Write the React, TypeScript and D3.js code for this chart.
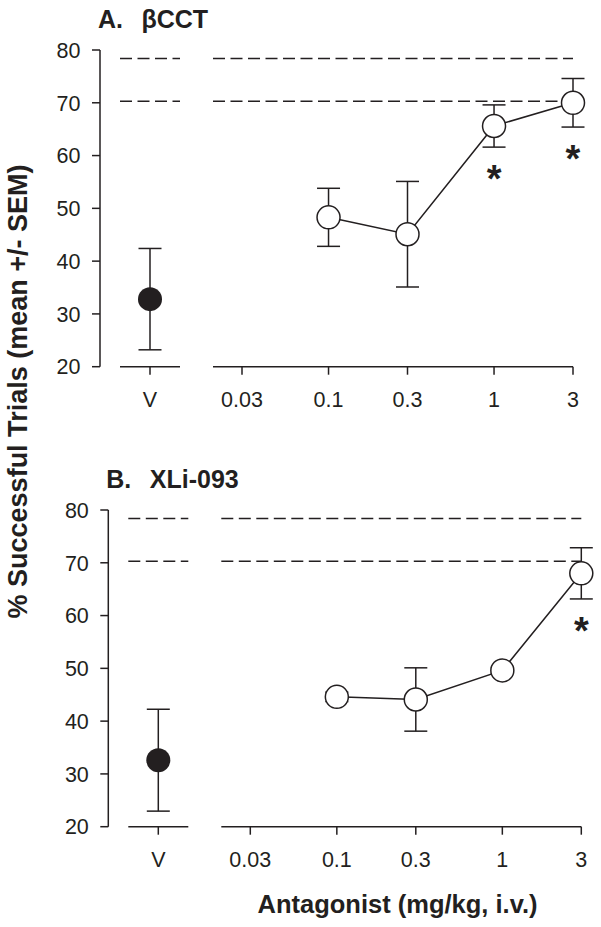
import React from "react";
import * as d3 from "d3";

// ---- data ----
const doses = [0.1, 0.3, 1, 3];
const doseTicks = [0.03, 0.1, 0.3, 1, 3];
const doseTickLabels = ["0.03", "0.1", "0.3", "1", "3"];
const yTicks = [20, 30, 40, 50, 60, 70, 80];
const refLines = [78.4, 70.3];

const aVehicleMean = 32.8;
const aVehicleSem = 9.6;
const aMeans = [48.3, 45.1, 65.6, 70.0];
const aSems = [5.5, 10.0, 4.0, 4.6];
const aSig = [false, false, true, true];

const bVehicleMean = 32.6;
const bVehicleSem = 9.65;
const bMeans = [44.6, 44.1, 49.6, 68.0];
const bSems = [0.9, 6.0, 0.5, 4.85];
const bSig = [false, false, false, true];

const FONT = "'Liberation Sans', Arial, Helvetica, sans-serif";

type PanelProps = {
  dx: number;
  dy: number;
  letter: string;
  name: string;
  vMean: number;
  vSem: number;
  means: number[];
  sems: number[];
  sig: boolean[];
};

function Panel({ dx, dy, letter, name, vMean, vSem, means, sems, sig }: PanelProps) {
  const axisX = 100;
  const y = d3.scaleLinear().domain([20, 80]).range([366.7, 50]);
  const x = d3.scaleLog().domain([0.03, 3]).range([242, 573]);
  const vX = 150;
  const y0 = y(20);
  const seg1: [number, number] = [vX - 30, vX + 30];
  const seg2: [number, number] = [x(0.03) - 29, x(3)];
  const r = 11.5;
  const cap = 11.5;
  const line = d3
    .line<number>()
    .x((_, i) => x(doses[i]))
    .y((d) => y(d));
  const sw = 1.5;
  const ink = "#231f20";
  return (
    <g transform={`translate(${dx},${dy})`} fontFamily={FONT}>
      {/* title */}
      <text x={98} y={27.5} fontSize={25} fontWeight="bold" fill={ink}>
        {letter}
      </text>
      <text x={141.5} y={27.5} fontSize={25} fontWeight="bold" fill={ink}>
        {name}
      </text>
      {/* y axis */}
      <line x1={axisX} x2={axisX} y1={y(80)} y2={y(20)} stroke={ink} strokeWidth={sw} />
      {yTicks.map((t) => (
        <g key={t}>
          <line x1={axisX - 8} x2={axisX} y1={y(t)} y2={y(t)} stroke={ink} strokeWidth={sw} />
          <text x={80.5} y={y(t)} dy="0.36em" textAnchor="end" fontSize={21.5} fill={ink}>
            {t}
          </text>
        </g>
      ))}
      {/* x axis, broken */}
      <line x1={seg1[0]} x2={seg1[1]} y1={y0} y2={y0} stroke={ink} strokeWidth={sw} />
      <line x1={seg2[0]} x2={seg2[1]} y1={y0} y2={y0} stroke={ink} strokeWidth={sw} />
      <line x1={vX} x2={vX} y1={y0} y2={y0 + 8} stroke={ink} strokeWidth={sw} />
      <text x={vX} y={y0 + 40} textAnchor="middle" fontSize={21.5} fill={ink}>
        V
      </text>
      {doseTicks.map((t, i) => (
        <g key={t}>
          <line x1={x(t)} x2={x(t)} y1={y0} y2={y0 + 8} stroke={ink} strokeWidth={sw} />
          <text x={x(t)} y={y0 + 40} textAnchor="middle" fontSize={21.5} fill={ink}>
            {doseTickLabels[i]}
          </text>
        </g>
      ))}
      {/* reference dashed lines */}
      {refLines.map((v) => (
        <g key={v}>
          <line x1={seg1[0]} x2={seg1[1]} y1={y(v)} y2={y(v)} stroke={ink} strokeWidth={sw} strokeDasharray="12,5.5" />
          <line x1={seg2[0]} x2={seg2[1]} y1={y(v)} y2={y(v)} stroke={ink} strokeWidth={sw} strokeDasharray="12,5.5" />
        </g>
      ))}
      {/* vehicle */}
      <line x1={vX} x2={vX} y1={y(vMean + vSem)} y2={y(vMean - vSem)} stroke={ink} strokeWidth={sw} />
      <line x1={vX - cap} x2={vX + cap} y1={y(vMean + vSem)} y2={y(vMean + vSem)} stroke={ink} strokeWidth={sw} />
      <line x1={vX - cap} x2={vX + cap} y1={y(vMean - vSem)} y2={y(vMean - vSem)} stroke={ink} strokeWidth={sw} />
      <circle cx={vX} cy={y(vMean)} r={r + 0.5} fill={ink} />
      {/* error bars */}
      {doses.map((d, i) => (
        <g key={d}>
          <line x1={x(d)} x2={x(d)} y1={y(means[i] + sems[i])} y2={y(means[i] - sems[i])} stroke={ink} strokeWidth={sw} />
          <line x1={x(d) - cap} x2={x(d) + cap} y1={y(means[i] + sems[i])} y2={y(means[i] + sems[i])} stroke={ink} strokeWidth={sw} />
          <line x1={x(d) - cap} x2={x(d) + cap} y1={y(means[i] - sems[i])} y2={y(means[i] - sems[i])} stroke={ink} strokeWidth={sw} />
        </g>
      ))}
      <path d={line(means) || ""} fill="none" stroke={ink} strokeWidth={sw} />
      {doses.map((d, i) => (
        <circle key={d} cx={x(d)} cy={y(means[i])} r={r} fill="#fff" stroke={ink} strokeWidth={sw} />
      ))}
      {doses.map((d, i) =>
        sig[i] ? (
          <text key={d} x={x(d)} y={y(means[i] - sems[i]) + 45} textAnchor="middle" fontSize={38} fontWeight="bold" fill={ink}>
            *
          </text>
        ) : null
      )}
    </g>
  );
}

export default function App() {
  return (
    <svg width={601} height={927} style={{ position: "absolute", left: 0, top: 0, background: "#fff" }}>
      <rect width={601} height={927} fill="#fff" />
      <Panel dx={0} dy={0} letter="A." name="βCCT" vMean={aVehicleMean} vSem={aVehicleSem} means={aMeans} sems={aSems} sig={aSig} />
      <Panel dx={8.3} dy={460} letter="B." name="XLi-093" vMean={bVehicleMean} vSem={bVehicleSem} means={bMeans} sems={bSems} sig={bSig} />
      <text
        transform="translate(27,391.5) rotate(-90)"
        textAnchor="middle"
        fontFamily={FONT}
        fontSize={27}
        fontWeight="bold"
        fill="#231f20"
      >
        % Successful Trials (mean +/- SEM)
      </text>
      <text x={397.5} y={913} textAnchor="middle" fontFamily={FONT} fontSize={25.5} fontWeight="bold" fill="#231f20">
        Antagonist (mg/kg, i.v.)
      </text>
    </svg>
  );
}
